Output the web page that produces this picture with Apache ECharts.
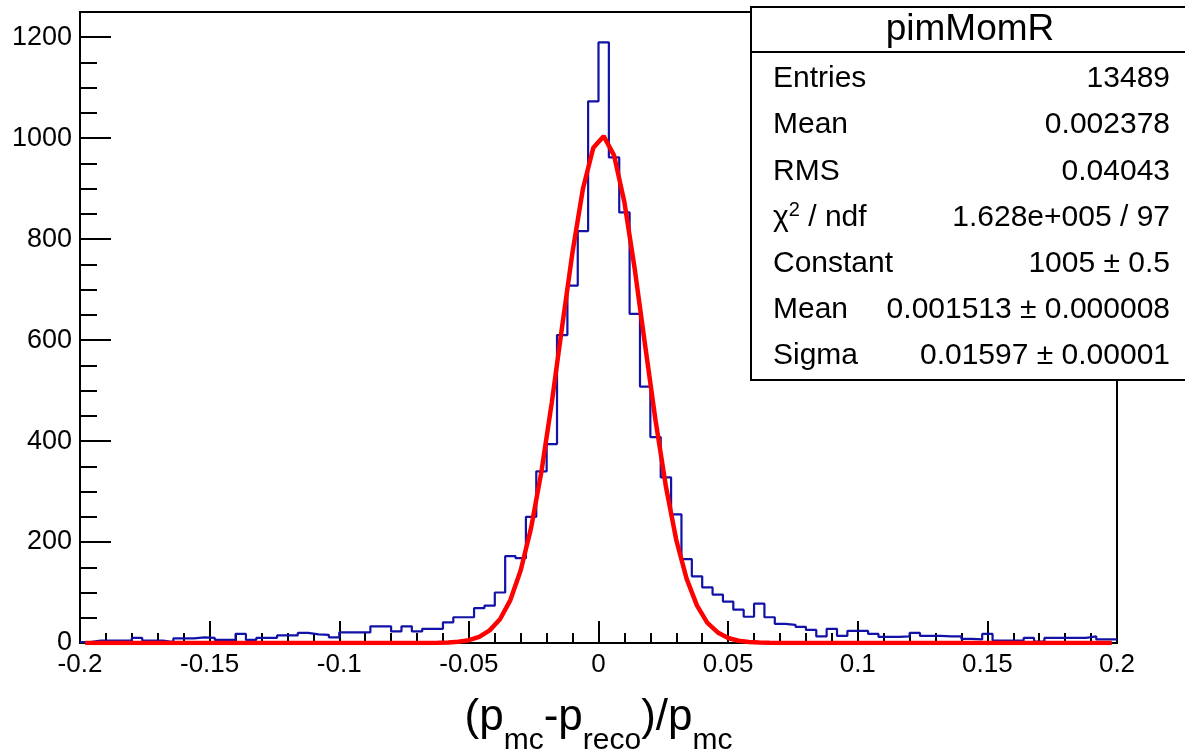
<!DOCTYPE html>
<html>
<head>
<meta charset="utf-8">
<title>pimMomR</title>
<script src="https://cdn.jsdelivr.net/npm/echarts@6/dist/echarts.min.js"></script>
<style>
html, body { margin: 0; padding: 0; background: #fff; }
#chart { width: 1185px; height: 756px; }
</style>
</head>
<body>
<div id="chart"></div>
<script>
// pimMomR histogram, 100 bins between -0.2 and 0.2
const binLow = -0.2
const binWidth = 0.004
const counts = [
  2, 5, 5, 5, 5, 10, 5, 5, 2, 9,
  9, 11, 10, 6, 6, 18, 6, 10, 10, 15,
  15, 20, 17, 16, 11, 21, 21, 21, 33, 33,
  23, 33, 23, 28, 28, 41, 51, 51, 69, 74,
  100, 172, 168, 250, 340, 394, 610, 708, 816, 1073,
  1190, 962, 853, 652, 508, 408, 328, 255, 166, 132,
  110, 96, 82, 66, 52, 78, 51, 38, 36, 32,
  26, 13, 28, 14, 24, 24, 18, 12, 12, 13,
  20, 14, 14, 13, 13, 8, 7, 18, 5, 5,
  5, 10, 3, 10, 10, 10, 10, 13, 7, 7
]
// red fit curve read at the bin centres
const fitValues = [
  0, 0, 0, 0, 0, 0, 0, 0, 0, 0,
  0, 0, 0, 0, 0, 0, 0, 0, 0, 0,
  0, 0, 0, 0, 0, 0, 0, 0, 0, 0,
  0, 0, 0, 0, 0.4, 1, 2.4, 5.5, 12, 25,
  47, 85, 144, 228, 340, 477, 628, 775, 900, 981,
  1004, 966, 873, 740, 589, 441, 310, 204, 127, 74,
  40, 21, 10, 4.5, 2, 0.8, 0.3, 0, 0, 0,
  0, 0, 0, 0, 0, 0, 0, 0, 0, 0,
  0, 0, 0, 0, 0, 0, 0, 0, 0, 0,
  0, 0, 0, 0, 0, 0, 0, 0, 0, 0
]
const statNames = ['Entries', 'Mean', 'RMS', '{a|χ}{b|2}{a| / ndf}', 'Constant', 'Mean', 'Sigma']
const statValues = ['13489', '0.002378', '0.04043', '1.628e+005 / 97', '1005 ± 0.5', '0.001513 ± 0.000008', '0.01597 ± 0.00001']

const FONT = 'Liberation Sans, Arial, sans-serif'

let histData = []
for (let i = 0; i < counts.length; i++) {
  histData.push([binLow + i * binWidth, counts[i]])
}
histData.push([binLow + counts.length * binWidth, counts[counts.length - 1]])

let fitData = []
for (let i = 0; i < fitValues.length; i++) {
  fitData.push([binLow + (i + 0.5) * binWidth, fitValues[i]])
}

// stats box
let statsGraphic = [
  { type: 'rect', shape: { x: 751, y: 7, width: 460, height: 373 },
    style: { fill: '#fff', stroke: '#000', lineWidth: 2 }, z: 100 },
  { type: 'line', shape: { x1: 751, y1: 52, x2: 1190, y2: 52 },
    style: { stroke: '#000', lineWidth: 2 }, z: 101 },
  { type: 'text', x: 970, y: 30, z: 101,
    style: { text: 'pimMomR', fontSize: 37, fontFamily: FONT, fill: '#000', align: 'center', verticalAlign: 'middle' } }
]
for (let i = 0; i < statNames.length; i++) {
  let y = 79 + i * 46.2
  statsGraphic.push({ type: 'text', x: 773, y: y, z: 101,
    style: { text: statNames[i], fontSize: 30, fontFamily: FONT, fill: '#000', align: 'left', verticalAlign: 'middle',
      rich: { a: { fontSize: 30, fontFamily: FONT, lineHeight: 34 },
              b: { fontSize: 20, fontFamily: FONT, lineHeight: 20, verticalAlign: 'top' } } } })
  statsGraphic.push({ type: 'text', x: 1170, y: y, z: 101,
    style: { text: statValues[i], fontSize: 30, fontFamily: FONT, fill: '#000', align: 'right', verticalAlign: 'middle' } })
}

let chart = echarts.init(document.getElementById('chart'))
chart.setOption({
  animation: false,
  backgroundColor: '#fff',
  grid: { left: 80, right: 68, top: 12, bottom: 113, outerBoundsMode: 'none', containLabel: false,
    show: true, borderColor: '#000', borderWidth: 2 },
  xAxis: {
    type: 'value', min: -0.2, max: 0.2, interval: 0.05,
    axisLine: { show: true, onZero: false, lineStyle: { color: '#000', width: 2 } },
    axisTick: { inside: true, length: 22, lineStyle: { color: '#000', width: 2 } },
    minorTick: { show: true, splitNumber: 5, length: 10, lineStyle: { color: '#000', width: 2 } },
    splitLine: { show: false },
    axisLabel: { fontSize: 26, fontFamily: FONT, color: '#000', margin: 9 },
    name: '{m|(p}{s|mc}{m|-p}{s|reco}{m|)/p}{s|mc}',
    nameLocation: 'middle', nameGap: 53,
    nameTextStyle: {
      fontFamily: FONT, color: '#000',
      rich: {
        m: { fontSize: 44, fontFamily: FONT, lineHeight: 60, verticalAlign: 'top' },
        s: { fontSize: 30, fontFamily: FONT, lineHeight: 30, verticalAlign: 'bottom' }
      }
    }
  },
  yAxis: [{
    type: 'value', min: 0, max: 1250, interval: 200,
    axisLine: { show: true, onZero: false, lineStyle: { color: '#000', width: 2 } },
    axisTick: { inside: true, length: 31, lineStyle: { color: '#000', width: 2 } },
    splitLine: { show: false },
    axisLabel: { fontSize: 27, fontFamily: FONT, color: '#000', margin: 8,
      formatter: v => (v % 200 === 0 ? String(v) : '') }
  }, {
    // minor ticks every 50
    type: 'value', min: 0, max: 1250, interval: 50, position: 'left',
    axisLine: { show: false, onZero: false },
    axisTick: { inside: true, length: 17, lineStyle: { color: '#000', width: 2 } },
    axisLabel: { show: false },
    splitLine: { show: false }
  }],
  series: [{
    name: 'pimMomR', type: 'line', step: 'end', data: histData,
    symbol: 'none', lineStyle: { color: '#1212a6', width: 2.2 }, z: 3
  }, {
    name: 'gaus', type: 'line', data: fitData,
    symbol: 'none', lineStyle: { color: '#ff0000', width: 4.5 }, z: 4
  }],
  graphic: statsGraphic
})
</script>
</body>
</html>
